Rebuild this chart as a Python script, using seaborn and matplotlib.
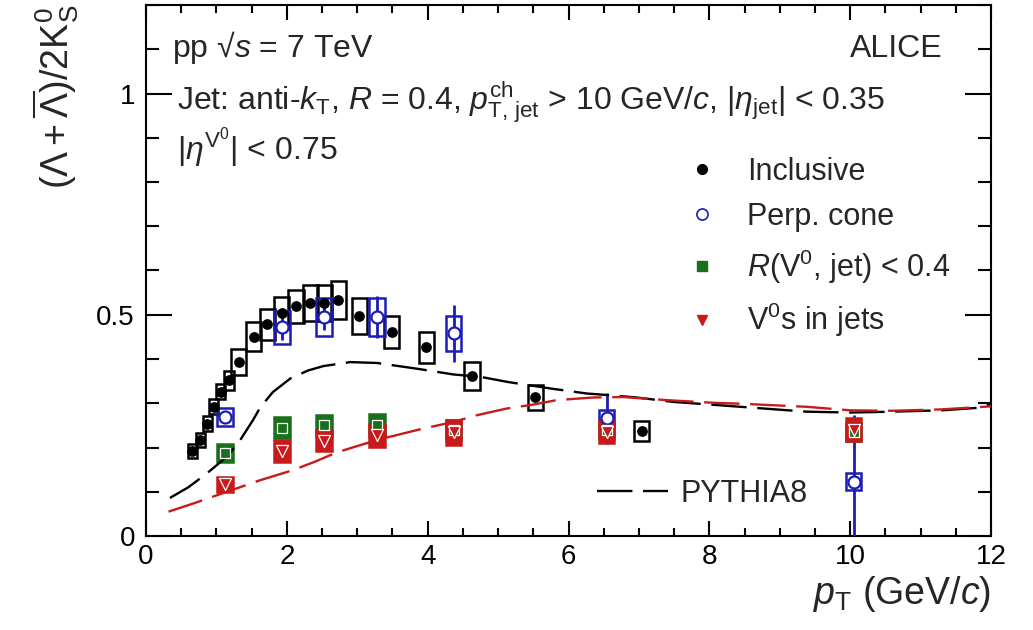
import numpy as np
import pandas as pd
import matplotlib
matplotlib.use("Agg")
import matplotlib.pyplot as plt
from matplotlib.patches import Rectangle
from matplotlib.lines import Line2D
from matplotlib.ticker import MultipleLocator
import seaborn as sns

# ---------------- data ----------------
# Inclusive
inc_pt = [0.66, 0.77, 0.87, 0.96, 1.06, 1.18, 1.32, 1.53, 1.72, 1.93, 2.13, 2.33, 2.53, 2.73,
          3.03, 3.49, 3.98, 4.63, 5.53, 7.04]
inc_val = [0.192, 0.217, 0.254, 0.292, 0.326, 0.352, 0.393, 0.450, 0.478, 0.503, 0.519, 0.527,
           0.527, 0.533, 0.497, 0.461, 0.426, 0.362, 0.313, 0.238]
inc_sys = [0.015, 0.015, 0.017, 0.017, 0.017, 0.022, 0.030, 0.033, 0.036, 0.036, 0.038, 0.040,
           0.040, 0.043, 0.041, 0.037, 0.036, 0.032, 0.028, 0.023]
inc_hw = [0.065, 0.065, 0.065, 0.065, 0.065, 0.07, 0.107, 0.107, 0.107, 0.107, 0.107, 0.107,
          0.107, 0.107, 0.107, 0.107, 0.107, 0.107, 0.11, 0.11]

# Perp. cone
pc_pt = [1.12, 1.93, 2.53, 3.28, 4.37, 6.54, 10.05]
pc_val = [0.269, 0.472, 0.495, 0.495, 0.458, 0.266, 0.123]
pc_sys = [0.020, 0.037, 0.042, 0.043, 0.040, 0.019, 0.019]
pc_stat = [0.010, 0.030, 0.030, 0.048, 0.065, 0.058, 0.150]

# R(V0, jet) < 0.4
rj_pt = [1.12, 1.93, 2.53, 3.28, 4.37, 6.54, 10.05]
rj_val = [0.187, 0.245, 0.250, 0.250, 0.240, 0.240, 0.235]
rj_sys = [0.020, 0.024, 0.024, 0.025, 0.023, 0.020, 0.020]

# V0s in jets
vj_pt = [1.12, 1.93, 2.53, 3.28, 4.37, 6.54, 10.05]
vj_val = [0.117, 0.192, 0.215, 0.228, 0.234, 0.236, 0.240]
vj_sys = [0.017, 0.024, 0.024, 0.026, 0.028, 0.026, 0.026]

box_hw = 0.11

# PYTHIA8 curves
py_inc_pt = [0.34, 0.60, 0.86, 1.08, 1.29, 1.52, 1.62, 1.80, 2.05, 2.30, 2.52, 2.90, 3.28, 3.85,
             4.37, 4.74, 5.14, 5.43, 5.76, 6.26, 6.60, 6.97, 7.49, 8.10, 8.44, 9.38, 10.0,
             10.6, 11.3, 11.85, 12.0]
py_inc_val = [0.086, 0.110, 0.141, 0.170, 0.205, 0.262, 0.290, 0.325, 0.356, 0.374, 0.384,
              0.393, 0.391, 0.378, 0.365, 0.360, 0.348, 0.341, 0.333, 0.322, 0.318, 0.313,
              0.303, 0.296, 0.292, 0.281, 0.279, 0.281, 0.284, 0.290, 0.298]
py_jet_pt = [0.32, 0.70, 1.15, 1.62, 2.09, 2.40, 2.71, 3.28, 3.89, 4.37, 4.70, 5.12, 5.50,
             5.83, 6.35, 6.78, 7.40, 8.06, 8.44, 9.38, 10.0, 10.6, 11.28, 12.0]
py_jet_val = [0.055, 0.075, 0.100, 0.126, 0.149, 0.168, 0.189, 0.217, 0.241, 0.258, 0.273,
              0.288, 0.297, 0.307, 0.313, 0.314, 0.307, 0.301, 0.299, 0.292, 0.284, 0.283,
              0.286, 0.293]

x_ticks = [0, 2, 4, 6, 8, 10, 12]
y_ticks = [0, 0.5, 1]
y_tick_labels = ["0", "0.5", "1"]

# ---------------- style ----------------
sns.set_theme(style="ticks")
plt.rcParams["font.family"] = ["Liberation Sans", "DejaVu Sans"]
plt.rcParams["mathtext.fontset"] = "custom"
plt.rcParams["mathtext.rm"] = "Liberation Sans"
plt.rcParams["mathtext.it"] = "Liberation Sans:italic"
plt.rcParams["mathtext.bf"] = "Liberation Sans:bold"
plt.rcParams["mathtext.sf"] = "Liberation Sans"

BLACK = "#000000"
BLUE = "#1c1cb8"
GREEN = "#1a6f1a"
RED = "#c81a1a"

fig = plt.figure(figsize=(10.33, 6.30), dpi=100)
ax = fig.add_axes([146 / 1033, 94 / 630, 845 / 1033, 531 / 630])

# PYTHIA8 curves
dash = (0, (15, 4.5))
sns.lineplot(x=py_inc_pt, y=py_inc_val, ax=ax, color=BLACK, lw=1.7, linestyle=dash,
             zorder=6, sort=False)
sns.lineplot(x=py_jet_pt, y=py_jet_val, ax=ax, color=RED, lw=1.7, linestyle=dash,
             zorder=6.5, sort=False)

# systematic boxes
def boxes(xs, ys, sy, hw, color, fill, z):
    hws = hw if isinstance(hw, (list, tuple)) else [hw] * len(xs)
    for x, y, s, h in zip(xs, ys, sy, hws):
        ax.add_patch(Rectangle((x - h, y - s), 2 * h, 2 * s, fill=fill,
                               facecolor=color if fill else "none", edgecolor=color,
                               lw=1.8, zorder=z))

boxes(inc_pt, inc_val, inc_sys, inc_hw, BLACK, False, 2)
boxes(pc_pt, pc_val, pc_sys, box_hw, BLUE, False, 3)
boxes(rj_pt, rj_val, rj_sys, box_hw, GREEN, True, 4)
boxes(vj_pt, vj_val, vj_sys, box_hw, RED, True, 5)

# stat bars (perp cone)
ax.errorbar(pc_pt, pc_val, yerr=pc_stat, fmt="none", ecolor=BLUE, elinewidth=2, capsize=0,
            zorder=3.5)

# markers
sns.scatterplot(x=inc_pt, y=inc_val, ax=ax, marker="o", color=BLACK, s=60, linewidth=0,
                zorder=7)
sns.scatterplot(x=pc_pt, y=pc_val, ax=ax, marker="o", facecolor="white", edgecolor=BLUE,
                s=75, linewidth=1.6, zorder=7)
sns.scatterplot(x=rj_pt, y=rj_val, ax=ax, marker="s", color=GREEN, s=55, edgecolor="white",
                linewidth=0.9, zorder=7)
sns.scatterplot(x=vj_pt, y=vj_val, ax=ax, marker="v", color=RED, s=75, edgecolor="white",
                linewidth=0.9, zorder=7.5)

# axes
ax.set_xlim(0, 12)
ax.set_ylim(0, 1.2)
ax.set_xticks(x_ticks)
ax.set_xticklabels([str(t) for t in x_ticks])
ax.set_yticks(y_ticks)
ax.set_yticklabels(y_tick_labels)
ax.xaxis.set_minor_locator(MultipleLocator(0.5))
ax.yaxis.set_minor_locator(MultipleLocator(0.1))
for sp in ax.spines.values():
    sp.set_linewidth(1.5)
    sp.set_color("black")
ax.tick_params(axis="both", which="both", direction="in", top=True, right=True,
               colors="black", width=1.5, labelsize=20)
ax.tick_params(axis="x", which="major", length=11, pad=6)
ax.tick_params(axis="x", which="minor", length=5.5)
ax.tick_params(axis="y", which="major", length=19, pad=8)
ax.tick_params(axis="y", which="minor", length=9.5)
ax.grid(False)

ax.set_xlabel(r"$p_{\mathrm{T}}$ (GeV/$c$)", fontsize=27, loc="right", labelpad=3)
ax.set_ylabel(r"$(\mathrm{\Lambda} + \overline{\mathrm{\Lambda}})/2\mathrm{K}^{0}_{\mathrm{S}}$",
              fontsize=27, loc="top", labelpad=11)

# annotations
hdr = 23
ax.text(0.031, 0.903, r"pp √$s$ = 7 TeV", transform=ax.transAxes, fontsize=hdr,
        ha="left", va="baseline")
ax.text(0.943, 0.903, "ALICE", transform=ax.transAxes, fontsize=hdr, ha="right",
        va="baseline")
ax.text(0.037, 0.804,
        r"Jet: anti-$k_{\mathrm{T}}$, $R$ = 0.4, $p_{\mathrm{T,\,jet}}^{\mathrm{ch}}$ > 10 GeV/$c$, $|\eta_{\mathrm{jet}}|$ < 0.35",
        transform=ax.transAxes, fontsize=hdr, ha="left", va="baseline")
ax.text(0.037, 0.709, r"$|\eta^{\mathrm{V}^{0}}|$ < 0.75", transform=ax.transAxes, fontsize=hdr,
        ha="left", va="baseline")

# legends
h1 = [Line2D([], [], ls="none", marker="o", color=BLACK, markersize=7),
      Line2D([], [], ls="none", marker="o", markerfacecolor="white", markeredgecolor=BLUE,
             markersize=8, markeredgewidth=1.2),
      Line2D([], [], ls="none", marker="s", color=GREEN, markersize=7),
      Line2D([], [], ls="none", marker="v", color=RED, markersize=7)]
l1 = [r"Inclusive", r"Perp. cone", r"$R$(V$^{0}$, jet) < 0.4", r"V$^{0}$s in jets"]
leg1 = ax.legend(h1, l1, loc="upper left", bbox_to_anchor=(0.626, 0.737), frameon=False,
                 fontsize=22, handlelength=1.0, handletextpad=0.95, labelspacing=0.5,
                 borderaxespad=0)
ax.add_artist(leg1)
h2 = [Line2D([], [], color=BLACK, lw=1.7, linestyle=dash)]
ax.legend(h2, ["PYTHIA8"], loc="upper left", bbox_to_anchor=(0.534, 0.108), frameon=False,
          fontsize=22, handlelength=2.3, handletextpad=0.42, borderaxespad=0, borderpad=0)

fig.savefig("out.png", dpi=100)
